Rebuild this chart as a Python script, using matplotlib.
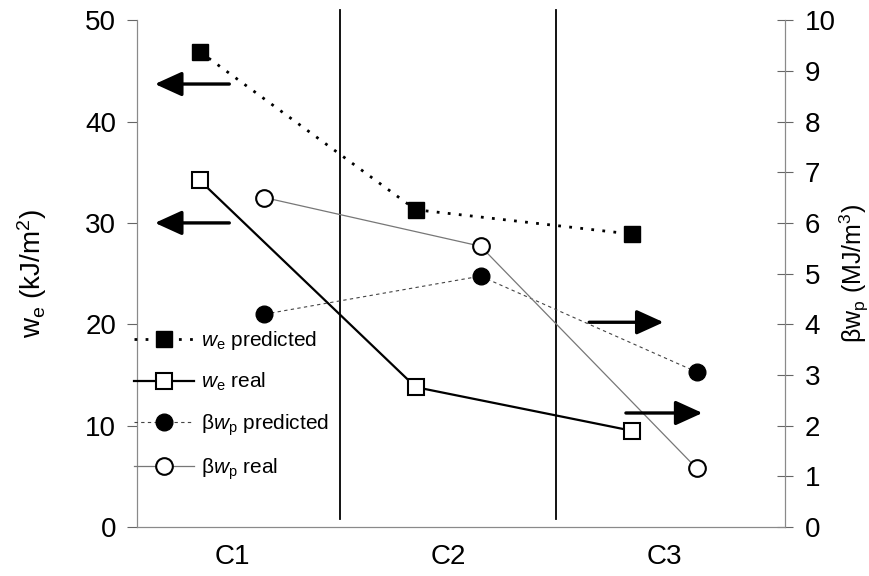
import matplotlib
matplotlib.use("Agg")
import matplotlib.pyplot as plt
from matplotlib.lines import Line2D

plt.rcParams['font.family'] = ['Liberation Sans', 'DejaVu Sans']
plt.rcParams['mathtext.fontset'] = 'custom'
plt.rcParams['mathtext.rm'] = 'Liberation Sans'
plt.rcParams['mathtext.it'] = 'Liberation Sans:italic'

# data
categories = ["C1", "C2", "C3"]
cat_pos = [1, 2, 3]
we_pred = [46.9, 31.3, 28.9]      # kJ/m2, left axis
we_real = [34.2, 13.8, 9.5]
bwp_pred = [4.2, 4.95, 3.06]      # MJ/m3, right axis
bwp_real = [6.5, 5.54, 1.16]
sq_shift = -0.15   # squares drawn left of the category centre
ci_shift = 0.15    # circles drawn right of it
separators = [1.5, 2.5]

# arrows pointing to the axis each pair of series belongs to
left_arrows_y = [43.7, 30.0]
left_arrows_x = (1.0, 0.63)
right_arrows_y = [4.04, 2.25]
right_arrows_x = [(2.64, 3.01), (2.81, 3.19)]

fig = plt.figure(figsize=(8.7, 5.76), dpi=100)
ax = fig.add_axes([0.1575, 0.085, 0.745, 0.88])
ax2 = ax.twinx()

xs = [p + sq_shift for p in cat_pos]
xc = [p + ci_shift for p in cat_pos]

ax.plot(xs, we_pred, color='k', lw=2, ls=(0, (1, 3)), marker='s', ms=11,
        mfc='k', mec='k', zorder=3)
ax.plot(xs, we_real, color='k', lw=1.6, ls='-', marker='s', ms=11,
        mfc='white', mec='k', mew=1.5, zorder=3)
ax2.plot(xc, bwp_pred, color='#444444', lw=0.8, ls=(0, (3, 3)), marker='o', ms=12,
         mfc='k', mec='k', zorder=3)
ax2.plot(xc, bwp_real, color='#777777', lw=0.9, ls='-', marker='o', ms=12,
         mfc='white', mec='k', mew=1.5, zorder=3)

for s in separators:
    ax.plot([s, s], [0.015, 1.02], color='k', lw=1.3,
            transform=ax.get_xaxis_transform(), clip_on=False)

arrow_style = dict(arrowstyle='-|>,head_length=0.55,head_width=0.25', lw=2.4,
                   color='k', mutation_scale=30)
for y in left_arrows_y:
    ax.annotate("", xy=(left_arrows_x[1], y), xytext=(left_arrows_x[0], y),
                arrowprops=arrow_style)
for y, (x0, x1) in zip(right_arrows_y, right_arrows_x):
    ax2.annotate("", xy=(x1, y), xytext=(x0, y), arrowprops=arrow_style)

ax.set_xlim(0.56, 3.56)
ax.set_ylim(0, 50)
ax2.set_ylim(0, 10)
ax.set_xticks(cat_pos)
ax.set_xticklabels(categories)
ax.set_yticks(range(0, 51, 10))
ax2.set_yticks(range(0, 11))

for a in (ax, ax2):
    a.spines['top'].set_visible(False)
    for side in ('left', 'right', 'bottom'):
        a.spines[side].set_color('#8a8a8a')
        a.spines[side].set_linewidth(0.8)

ax.tick_params(axis='x', length=0, labelsize=20, pad=12)
ax.tick_params(axis='y', direction='out', length=7, width=0.8, color='#666666',
               labelsize=20, pad=8)
ax2.tick_params(axis='y', direction='inout', length=12, width=0.8, color='#666666',
                labelsize=20, pad=8)

ax.set_ylabel(r"w$_\mathrm{e}$ (kJ/m$^2$)", fontsize=20, labelpad=26)
ax2.set_ylabel(r"βw$_\mathrm{p}$ (MJ/m$^3$)", fontsize=18)
ax2.yaxis.set_label_coords(1.082, 0.5)

handles = [
    Line2D([], [], color='k', lw=2, ls=(0, (1, 3)), marker='s', ms=11, mfc='k', mec='k'),
    Line2D([], [], color='k', lw=1.6, marker='s', ms=11, mfc='white', mec='k', mew=1.5),
    Line2D([], [], color='#444444', lw=0.8, ls=(0, (3, 3)), marker='o', ms=12, mfc='k', mec='k'),
    Line2D([], [], color='#777777', lw=0.9, marker='o', ms=12, mfc='white', mec='k', mew=1.5),
]
labels = [r"$w_\mathrm{e}$ predicted", r"$w_\mathrm{e}$ real",
          r"β$w_\mathrm{p}$ predicted", r"β$w_\mathrm{p}$ real"]
ax2.legend(handles, labels, loc='upper left', bbox_to_anchor=(-0.005, 0.39),
           frameon=False, fontsize=15, handlelength=2.9, handletextpad=0.35,
           labelspacing=0.9, borderaxespad=0, borderpad=0)

fig.savefig("out.png", dpi=100)
